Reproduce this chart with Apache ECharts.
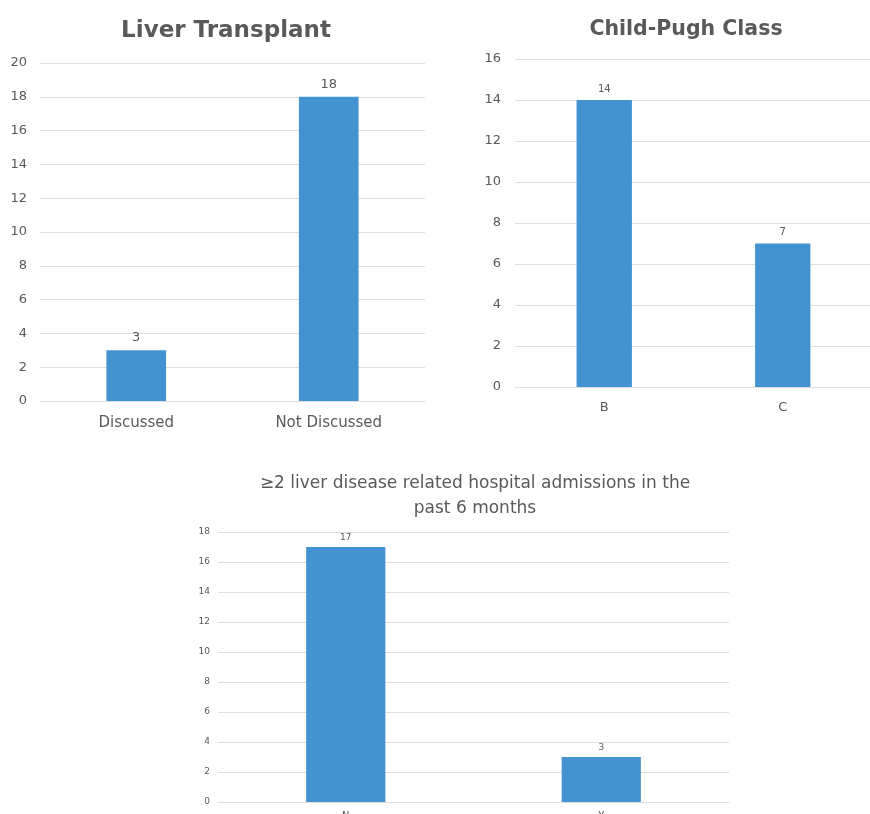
<!DOCTYPE html>
<html>
<head>
<meta charset="utf-8">
<script src="https://cdn.jsdelivr.net/npm/echarts@6/dist/echarts.min.js"></script>
<style>
  html, body { margin: 0; padding: 0; background: #ffffff; }
  #chart { width: 870px; height: 814px; }
</style>
</head>
<body>
<div id="chart"></div>
<script>
// Liver transplant discussion
const transplantCategories = ['Discussed', 'Not Discussed'];
const transplantValues = [3, 18];
const transplantTicks = { min: 0, max: 20, interval: 2 };

// Child-Pugh class
const childPughCategories = ['B', 'C'];
const childPughValues = [14, 7];
const childPughTicks = { min: 0, max: 16, interval: 2 };

// Repeated liver-related admissions
const admissionCategories = ['N', 'Y'];
const admissionValues = [17, 3];
const admissionTicks = { min: 0, max: 18, interval: 2 };

const FONT = '"DejaVu Sans", sans-serif';
const TEXT = '#595959';
const BAR = '#4393d1';
const GRID_LINE = '#dedede';

function yAxis(gridIndex, ticks, fontSize, margin) {
  return {
    type: 'value', gridIndex,
    min: ticks.min, max: ticks.max, interval: ticks.interval,
    axisLine: { show: false }, axisTick: { show: false },
    axisLabel: { color: TEXT, fontSize, fontFamily: FONT, margin },
    splitLine: { lineStyle: { color: GRID_LINE, width: 1 } }
  };
}
function xAxis(gridIndex, cats, fontSize, margin) {
  return {
    type: 'category', gridIndex, data: cats,
    axisLine: { lineStyle: { color: GRID_LINE } }, axisTick: { show: false },
    axisLabel: { color: TEXT, fontSize, fontFamily: FONT, margin }
  };
}
function bars(idx, values, labelSize, labelDist) {
  return {
    type: 'bar', xAxisIndex: idx, yAxisIndex: idx, data: values,
    barWidth: '31%',
    itemStyle: { color: BAR },
    label: { show: true, position: 'top', color: TEXT, fontSize: labelSize,
             fontFamily: FONT, distance: labelDist }
  };
}

const chart = echarts.init(document.getElementById('chart'));
chart.setOption({
  animation: false,
  title: [
    { text: 'Liver Transplant', left: 221, top: 15, textAlign: 'center',
      textStyle: { color: TEXT, fontSize: 23, fontWeight: 'bold', fontFamily: FONT } },
    { text: 'Child-Pugh Class', left: 681, top: 14, textAlign: 'center',
      textStyle: { color: TEXT, fontSize: 20.5, fontWeight: 'bold', fontFamily: FONT } },
    { text: '\u22652 liver disease related hospital admissions in the\npast 6 months',
      left: 470, top: 466, textAlign: 'center',
      textStyle: { color: TEXT, fontSize: 17, fontWeight: 'normal', fontFamily: FONT, lineHeight: 25 } }
  ],
  grid: [
    { left: 40, right: 445, top: 63, bottom: 413, outerBoundsMode: 'none' },
    { left: 515, right: -2, top: 59, bottom: 427, outerBoundsMode: 'none' },
    { left: 218, right: 141, top: 532, bottom: 12, outerBoundsMode: 'none' }
  ],
  xAxis: [
    xAxis(0, transplantCategories, 15, 15),
    xAxis(1, childPughCategories, 13, 14),
    xAxis(2, admissionCategories, 10, 9)
  ],
  yAxis: [
    yAxis(0, transplantTicks, 13, 13),
    yAxis(1, childPughTicks, 13, 14),
    yAxis(2, admissionTicks, 9, 8)
  ],
  series: [
    bars(0, transplantValues, 13, 6),
    bars(1, childPughValues, 10, 6),
    bars(2, admissionValues, 9, 5)
  ]
});
</script>
</body>
</html>
